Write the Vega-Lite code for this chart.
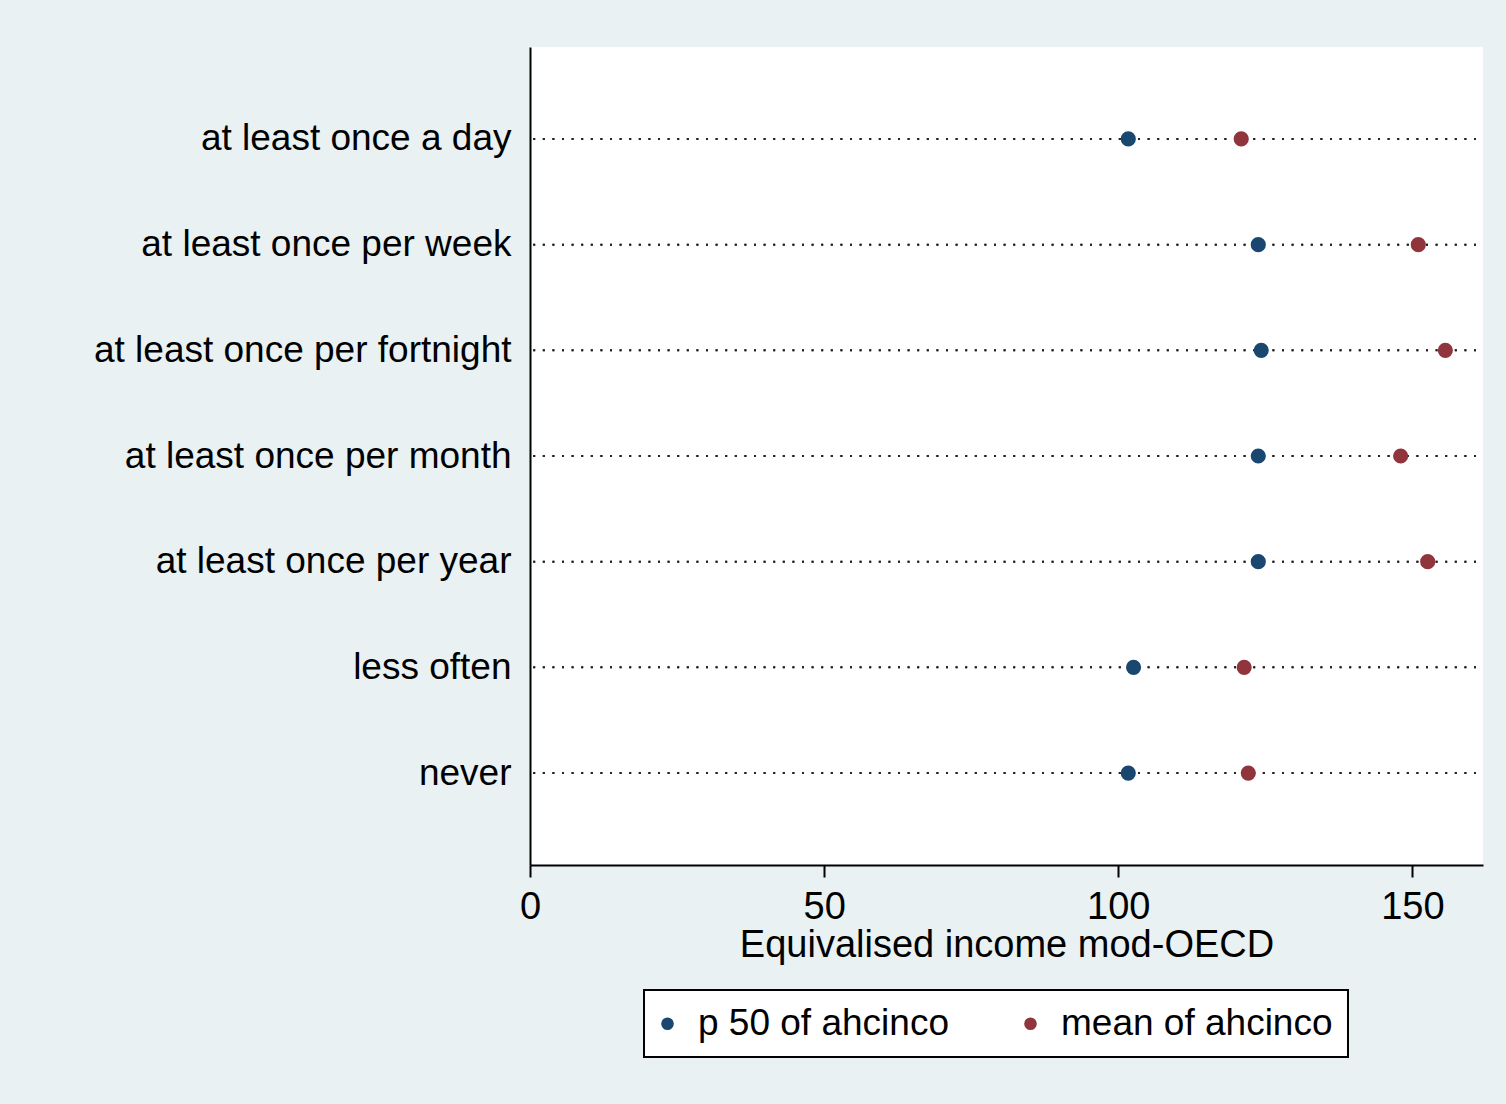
{
  "$schema": "https://vega.github.io/schema/vega-lite/v6.json",
  "autosize": {"type": "none"},
  "width": 953,
  "height": 818,
  "padding": {"left": 530, "top": 47, "right": 23, "bottom": 239},
  "background": "#e9f1f3",
  "data": {
    "values": [
      {"freq": "at least once a day", "stat": "p 50 of ahcinco", "value": 101.7},
      {"freq": "at least once per week", "stat": "p 50 of ahcinco", "value": 123.8},
      {"freq": "at least once per fortnight", "stat": "p 50 of ahcinco", "value": 124.3},
      {"freq": "at least once per month", "stat": "p 50 of ahcinco", "value": 123.8},
      {"freq": "at least once per year", "stat": "p 50 of ahcinco", "value": 123.8},
      {"freq": "less often", "stat": "p 50 of ahcinco", "value": 102.6},
      {"freq": "never", "stat": "p 50 of ahcinco", "value": 101.7},
      {"freq": "at least once a day", "stat": "mean of ahcinco", "value": 120.9},
      {"freq": "at least once per week", "stat": "mean of ahcinco", "value": 151.0},
      {"freq": "at least once per fortnight", "stat": "mean of ahcinco", "value": 155.6},
      {"freq": "at least once per month", "stat": "mean of ahcinco", "value": 148.0},
      {"freq": "at least once per year", "stat": "mean of ahcinco", "value": 152.6},
      {"freq": "less often", "stat": "mean of ahcinco", "value": 121.4},
      {"freq": "never", "stat": "mean of ahcinco", "value": 122.1}
    ]
  },
  "encoding": {
    "y": {
      "field": "freq",
      "type": "nominal",
      "sort": ["at least once a day", "at least once per week", "at least once per fortnight", "at least once per month", "at least once per year", "less often", "never"],
      "scale": {"type": "point", "padding": 0.87},
      "axis": {
        "title": null,
        "ticks": false,
        "grid": false,
        "domainColor": "#000000",
        "domainWidth": 2,
        "labelFontSize": 37,
        "labelFont": "Liberation Sans",
        "labelColor": "#000000",
        "labelPadding": 19,
        "labelLimit": 600
      }
    }
  },
  "layer": [
    {
      "mark": {"type": "rule", "color": "#222222", "strokeWidth": 2, "strokeDash": [2, 7.6], "strokeDashOffset": -7},
      "encoding": {}
    },
    {
      "mark": {"type": "point", "filled": true, "shape": "circle", "size": 230, "opacity": 1},
      "encoding": {
        "x": {
          "field": "value",
          "type": "quantitative",
          "scale": {"domain": [0, 162], "nice": false, "zero": true},
          "axis": {
            "values": [0, 50, 100, 150],
            "title": "Equivalised income mod-OECD",
            "titleFont": "Liberation Sans",
            "titleFontSize": 38,
            "titleFontWeight": "normal",
            "titleColor": "#000000",
            "titlePadding": 0,
            "grid": false,
            "domainColor": "#000000",
            "domainWidth": 2,
            "tickColor": "#000000",
            "tickWidth": 2,
            "tickSize": 12,
            "labelFont": "Liberation Sans",
            "labelFontSize": 38,
            "labelColor": "#000000",
            "labelPadding": 11,
            "labelFlush": false
          }
        },
        "color": {
          "field": "stat",
          "type": "nominal",
          "scale": {"domain": ["p 50 of ahcinco", "mean of ahcinco"], "range": ["#1a476f", "#90353b"]},
          "legend": {
            "title": null,
            "orient": "none",
            "legendX": 114,
            "legendY": 943,
            "direction": "horizontal",
            "columns": 2,
            "columnPadding": 73,
            "fillColor": "#ffffff",
            "strokeColor": "#000000",
            "padding": 15,
            "symbolType": "circle",
            "symbolSize": 160,
            "symbolOffset": -10,
            "symbolStrokeWidth": 0,
            "symbolOpacity": 1,
            "labelFont": "Liberation Sans",
            "labelFontSize": 37,
            "labelColor": "#000000",
            "labelOffset": 12,
            "labelLimit": 600
          }
        }
      }
    }
  ],
  "config": {
    "view": {"stroke": null, "fill": "#ffffff"},
    "legend": {"strokeWidth": 2}
  }
}
